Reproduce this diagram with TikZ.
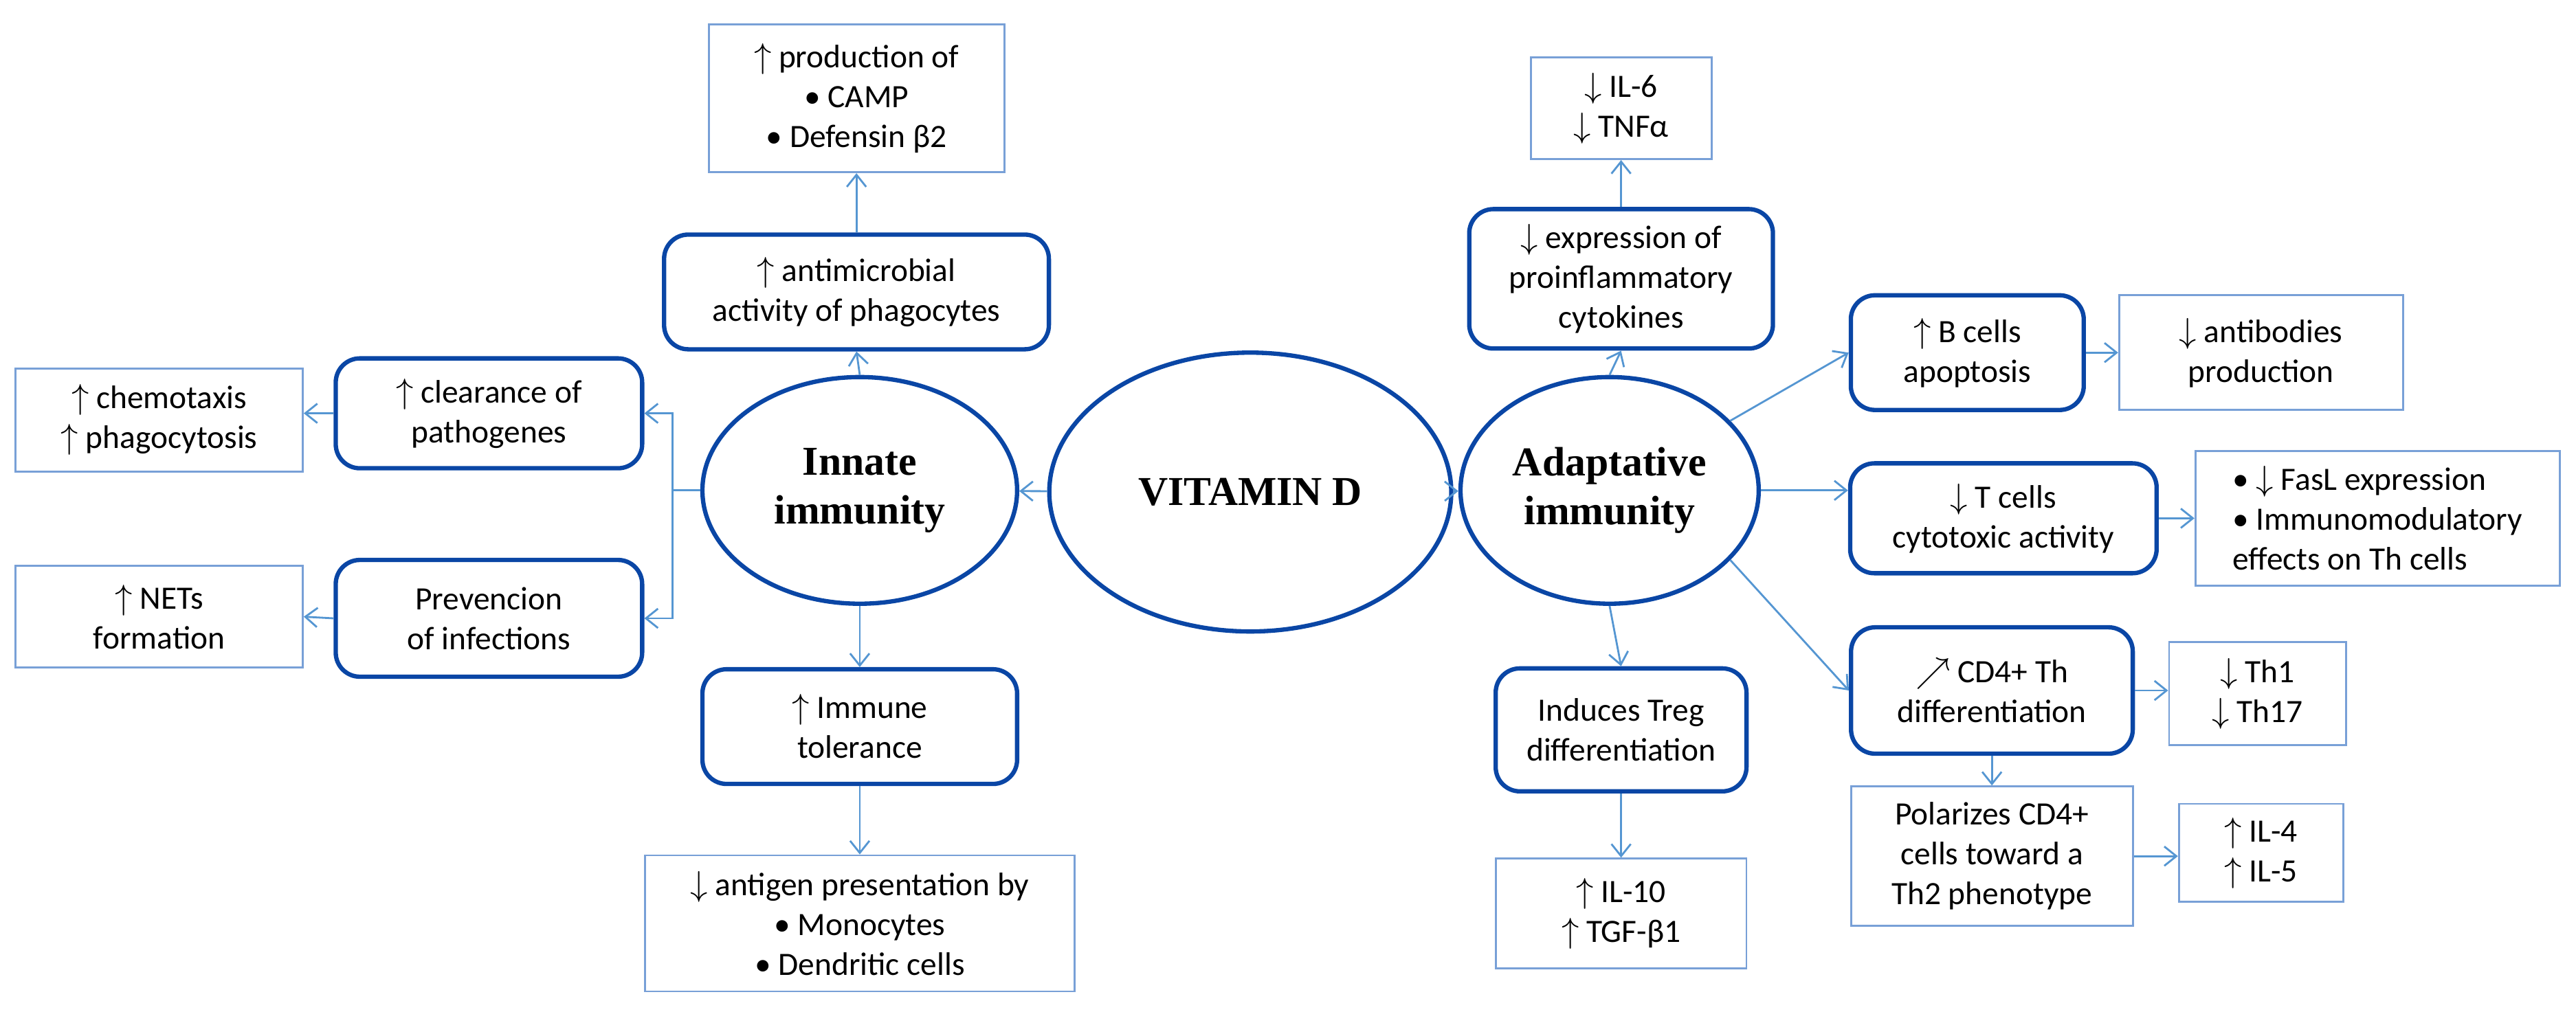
\documentclass[tikz,border=0pt]{standalone}
\usepackage{fontspec}
\setmainfont{Carlito}
\newfontfamily\ellfont{Liberation Serif}
\usetikzlibrary{arrows.meta,shapes.geometric}
\definecolor{dblue}{RGB}{10,70,165}
\definecolor{lblue}{RGB}{120,160,215}
\definecolor{ablue}{RGB}{85,150,210}
\newcommand{\UA}{$\uparrow$}
\newcommand{\DA}{$\downarrow$}
\begin{document}
\begin{tikzpicture}[x=0.023873cm,y=-0.023873cm,
  every node/.style={font=\fontsize{13.5}{16.5}\selectfont,align=center,inner sep=0pt},
  rb/.style={draw=dblue,line width=1.8pt,rounded corners=10pt},
  sb/.style={draw=lblue,line width=0.8pt},
  el/.style={ellipse,draw=dblue,line width=1.8pt,font=\ellfont\bfseries\fontsize{17}{20}\selectfont},
  ar/.style={draw=ablue,line width=0.8pt,-{Straight Barb[length=5pt,width=8pt]}},
  ln/.style={draw=ablue,line width=0.8pt}]
\useasboundingbox (0,0) rectangle (1570,617);
% ellipses
\node[el,minimum width=5.85cm,minimum height=4.06cm] (vit) at (762,300) {VITAMIN D};
\node[el,minimum width=4.58cm,minimum height=3.3cm] (inn) at (524,299) {Innate\\immunity};
\node[el,minimum width=4.34cm,minimum height=3.3cm] (ada) at (981,299) {Adaptative\\immunity};
% left
\node[sb,minimum width=4.3cm,minimum height=2.15cm] (prod) at (522,60) {\UA{} production of\\ • CAMP\\ • Defensin β2};
\node[rb,minimum width=5.6cm,minimum height=1.67cm] (anti) at (522,178) {\UA{} antimicrobial\\activity of phagocytes};
\node[rb,minimum width=4.46cm,minimum height=1.6cm] (clear) at (298,252) {\UA{} clearance of\\pathogenes};
\node[sb,minimum width=4.18cm,minimum height=1.5cm] (chem) at (97,256) {\UA{} chemotaxis\\\UA{} phagocytosis};
\node[rb,minimum width=4.46cm,minimum height=1.7cm] (prev) at (298,377) {Prevencion\\of infections};
\node[sb,minimum width=4.18cm,minimum height=1.48cm] (nets) at (97,376) {\UA{} NETs\\formation};
\node[rb,minimum width=4.58cm,minimum height=1.67cm] (tol) at (524,443) {\UA{} Immune\\tolerance};
\node[sb,minimum width=6.25cm,minimum height=1.98cm] (antig) at (524,563) {\DA{} antigen presentation by\\ • Monocytes\\ • Dendritic cells};
% right
\node[sb,minimum width=2.63cm,minimum height=1.48cm] (il6) at (988,66) {\DA{} IL-6\\\DA{} TNFα};
\node[rb,minimum width=4.42cm,minimum height=2.03cm] (pro) at (988,170) {\DA{} expression of\\proinflammatory\\cytokines};
\node[rb,minimum width=3.39cm,minimum height=1.67cm] (bc) at (1199,215) {\UA{} B cells\\apoptosis};
\node[sb,minimum width=4.13cm,minimum height=1.67cm] (ab) at (1378,215) {\DA{} antibodies\\production};
\node[rb,minimum width=4.46cm,minimum height=1.6cm] (tc) at (1221,316) {\DA{} T cells\\cytotoxic activity};
\node[sb,minimum width=5.3cm,minimum height=1.96cm,align=left] (fas) at (1449,316) {• \DA{} FasL expression\\• Immunomodulatory\\effects on Th cells};
\node[rb,minimum width=4.1cm,minimum height=1.84cm] (cd4) at (1214,421) {$\nearrow$ CD4+ Th\\differentiation};
\node[sb,minimum width=2.58cm,minimum height=1.5cm] (th1) at (1376,423) {\DA{} Th1\\\DA{} Th17};
\node[sb,minimum width=4.1cm,minimum height=2.03cm] (pol) at (1214,522) {Polarizes CD4+\\cells toward a\\Th2 phenotype};
\node[sb,minimum width=2.39cm,minimum height=1.43cm] (il4) at (1378,520) {\UA{} IL-4\\\UA{} IL-5};
\node[rb,minimum width=3.65cm,minimum height=1.79cm] (treg) at (988,445) {Induces Treg\\differentiation};
\node[sb,minimum width=3.65cm,minimum height=1.6cm] (il10) at (988,557) {\UA{} IL-10\\\UA{} TGF-β1};
% connectors
\draw[ar] (vit) -- (inn);
\draw[ar] (vit) -- (ada);
\draw[ar] (inn.north) -- (anti.south);
\draw[ar] (anti.north) -- (prod.south);
\draw[ar] (inn.south) -- (tol.north);
\draw[ar] (tol.south) -- (antig.north);
\coordinate (br) at (410,299);
\draw[ln] (inn.west) -- (br);
\draw[ar] (br) |- (clear.east);
\draw[ar] (br) |- (prev.east);
\draw[ar] (clear.west) -- (clear.west -| chem.east);
\draw[ar] (prev.west) -- (nets.east);
\draw[ar] (ada.north) -- (pro.south);
\draw[ar] (pro.north) -- (il6.south);
\draw[ar] (ada.south) -- (treg.north);
\draw[ar] (treg.south) -- (il10.north);
\draw[ar] (ada.30) -- (bc.west);
\draw[ar] (ada.east) -- (ada.east -| tc.west);
\draw[ar] (ada.-30) -- (cd4.west);
\draw[ar] (bc.east) -- (ab.west);
\draw[ar] (tc.east) -- (fas.west);
\draw[ar] (cd4.east) -- (cd4.east -| th1.west);
\draw[ar] (cd4.south) -- (pol.north);
\draw[ar] (pol.east) -- (pol.east -| il4.west);
\end{tikzpicture}
\end{document}
